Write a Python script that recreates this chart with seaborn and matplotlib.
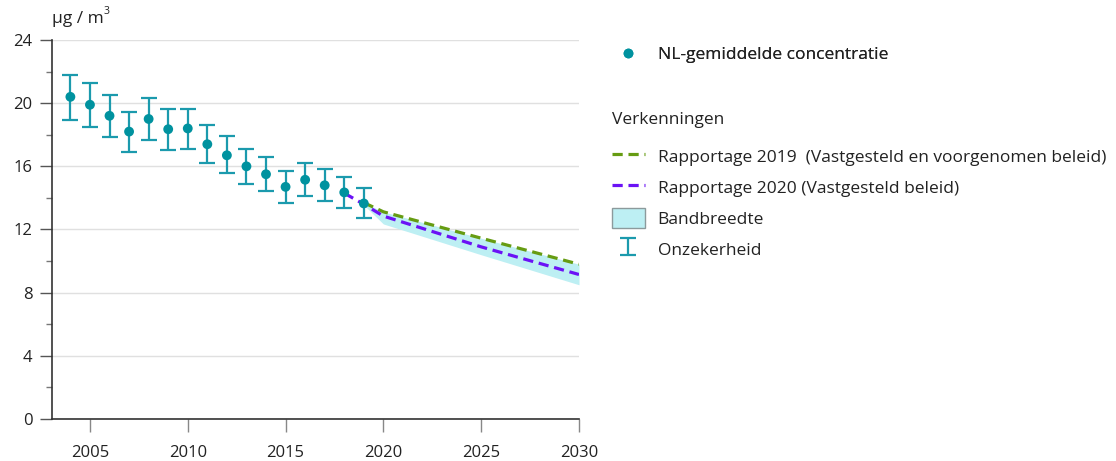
import numpy as np
import pandas as pd
import matplotlib
matplotlib.use("Agg")
import matplotlib.pyplot as plt
import seaborn as sns
from matplotlib.lines import Line2D
from matplotlib.patches import Patch

# ---- data ----
years = [2004, 2005, 2006, 2007, 2008, 2009, 2010, 2011, 2012, 2013, 2014, 2015, 2016, 2017, 2018, 2019]
conc = [20.4, 19.9, 19.2, 18.2, 19.0, 18.35, 18.4, 17.4, 16.7, 16.0, 15.5, 14.7, 15.15, 14.8, 14.35, 13.65]
unc_low = [18.95, 18.5, 17.85, 16.9, 17.65, 17.05, 17.1, 16.2, 15.55, 14.9, 14.45, 13.65, 14.1, 13.8, 13.35, 12.7]
unc_high = [21.8, 21.25, 20.5, 19.45, 20.3, 19.6, 19.65, 18.6, 17.9, 17.1, 16.6, 15.7, 16.2, 15.8, 15.35, 14.6]

rap2019_years = [2019, 2020, 2025, 2030]
rap2019_vals = [13.7, 13.12, 11.45, 9.8]

rap2020_years = [2018, 2019, 2020, 2025, 2030]
rap2020_vals = [14.3, 13.6, 12.85, 10.9, 9.15]

band_years = [2019, 2020, 2025, 2030]
band_low = [13.55, 12.35, 10.4, 8.5]
band_high = [13.7, 13.12, 11.45, 9.8]

yticks = [0, 4, 8, 12, 16, 20, 24]
xticks = [2005, 2010, 2015, 2020, 2025, 2030]

# ---- style ----
sns.set_style("white")
plt.rcParams['font.family'] = ['Open Sans', 'DejaVu Sans']

teal = "#00929f"
teal_err = "#1b9aad"
green = "#669c12"
purple = "#6b12f5"
band_col = "#bdeff3"
text_col = "#222222"
FS = 12.5

fig = plt.figure(figsize=(11.16, 4.61), dpi=100)
ax = fig.add_axes([52/1116, 1 - 419/461, (579-52)/1116, (419-40)/461])

obs = pd.DataFrame({"jaar": years, "conc": conc, "low": unc_low, "high": unc_high})
p19 = pd.DataFrame({"jaar": rap2019_years, "conc": rap2019_vals})
p20 = pd.DataFrame({"jaar": rap2020_years, "conc": rap2020_vals})

# band
ax.fill_between(band_years, band_low, band_high, color=band_col, lw=0, zorder=1)

# projections
dash = (0, (3.2, 1.8))
sns.lineplot(data=p19, x="jaar", y="conc", ax=ax, color=green, lw=2.3, zorder=3,
             linestyle=dash, legend=False)
sns.lineplot(data=p20, x="jaar", y="conc", ax=ax, color=purple, lw=2.3, zorder=3,
             linestyle=dash, legend=False)

# error bars
yerr = np.array([obs["conc"] - obs["low"], obs["high"] - obs["conc"]])
eb = ax.errorbar(obs["jaar"], obs["conc"], yerr=yerr, fmt='none', ecolor=teal_err,
                 elinewidth=1.6, capsize=6, capthick=1.6, zorder=2)

# points
sns.scatterplot(data=obs, x="jaar", y="conc", ax=ax, color=teal, s=50,
                edgecolor="none", zorder=4, legend=False)

# axes
ax.set_xlim(2003.06, 2030)
ax.set_ylim(0, 24)
ax.set_yticks(yticks)
ax.set_yticks(np.arange(2, 24, 4), minor=True)
ax.set_xticks(xticks)
ax.set_xticklabels([str(x) for x in xticks])
ax.set_xlabel("")
ax.set_ylabel("")
ax.grid(axis='y', color="#e0e0e0", lw=1)
ax.set_axisbelow(True)
for s in ["top", "right"]:
    ax.spines[s].set_visible(False)
ax.spines["left"].set_color("#333333")
ax.spines["bottom"].set_color("#333333")
ax.spines["left"].set_linewidth(1.2)
ax.spines["bottom"].set_linewidth(1.2)
ax.tick_params(axis='y', which='major', length=9, width=1, color="#555555",
               labelsize=12, labelcolor=text_col, pad=5, left=True)
ax.tick_params(axis='y', which='minor', length=4.5, width=1, color="#777777", left=True)
ax.tick_params(axis='x', which='major', length=9, width=1, color="#888888",
               labelsize=12, labelcolor=text_col, pad=10, bottom=True)

fig.text(52/1116, 1 - 19/461, "µg / m", fontsize=12.5, color=text_col,
         ha='left', va='center')
fig.text(104/1116, 1 - 12/461, "3", fontsize=7.5, color=text_col, ha='left', va='center')

# legends
h_obs = Line2D([], [], marker='o', color=teal, linestyle='none', markersize=7, markeredgewidth=0)
leg1 = fig.legend([h_obs], ["NL-gemiddelde concentratie"], loc='upper left',
                  bbox_to_anchor=(596/1116, 1 - 31/461), frameon=False, fontsize=FS,
                  handlelength=1.9, handletextpad=0.75, labelcolor=text_col)

fig.text(612/1116, 1 - 120/461, "Verkenningen", fontsize=FS, color=text_col,
         ha='left', va='center')

h19 = Line2D([], [], color=green, lw=2.3, linestyle=dash)
h20 = Line2D([], [], color=purple, lw=2.3, linestyle=dash)
hband = Patch(facecolor=band_col, edgecolor="#8c9a9c", lw=1)
leg2 = fig.legend([h19, h20, hband, eb],
                  ["Rapportage 2019  (Vastgesteld en voorgenomen beleid)",
                   "Rapportage 2020 (Vastgesteld beleid)",
                   "Bandbreedte", "Onzekerheid"],
                  loc='upper left', bbox_to_anchor=(596/1116, 1 - 130/461),
                  frameon=False, fontsize=FS, handlelength=1.9, handletextpad=0.75,
                  labelspacing=0.6, labelcolor=text_col, handleheight=1.45)
fig.add_artist(leg1)

fig.savefig("out.png", dpi=100)
